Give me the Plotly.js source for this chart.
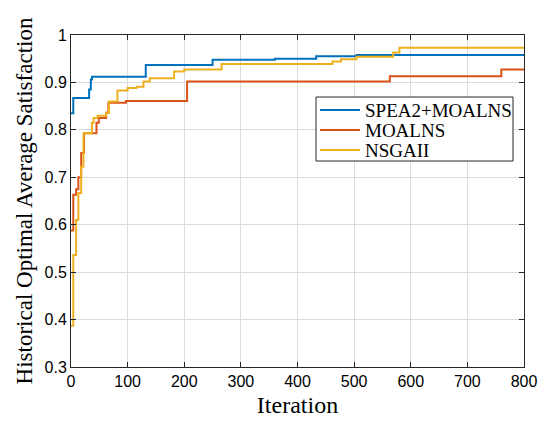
<!DOCTYPE html>
<html>
<head>
<meta charset="utf-8">
<script src="https://cdn.plot.ly/plotly-3.0.1.min.js"></script>
<style>html,body{margin:0;padding:0;background:#fff;}#chart{width:550px;height:430px;}</style>
</head>
<body>
<div id="chart"></div>
<script>
// SPEA2+MOALNS
const spea_x = [0, 4, 32, 35, 37, 132, 250, 360, 433, 504, 800];
const spea_y = [0.835, 0.867, 0.885, 0.906, 0.912, 0.937, 0.948, 0.950, 0.955, 0.958, 0.958];
// MOALNS
const moalns_x = [0, 4, 9, 13, 18, 23, 45, 49, 62, 66, 97, 205, 563, 760, 800];
const moalns_y = [0.588, 0.663, 0.675, 0.700, 0.751, 0.793, 0.815, 0.825, 0.836, 0.857, 0.861, 0.902, 0.913, 0.927, 0.927];
// NSGAII
const nsga_x = [0, 4, 9, 13, 18, 22, 37, 40, 47, 62, 67, 82, 100, 116, 128, 139, 182, 200, 266, 462, 477, 504, 569, 580, 800];
const nsga_y = [0.387, 0.536, 0.610, 0.667, 0.722, 0.793, 0.815, 0.825, 0.830, 0.836, 0.860, 0.883, 0.888, 0.891, 0.902, 0.909, 0.923, 0.927, 0.939, 0.944, 0.949, 0.954, 0.963, 0.973, 0.973];

const xticks = [0, 100, 200, 300, 400, 500, 600, 700, 800];
const yticks = [0.3, 0.4, 0.5, 0.6, 0.7, 0.8, 0.9, 1];
const ytickText = ['0.3', '0.4', '0.5', '0.6', '0.7', '0.8', '0.9', '1'];

const names = ['SPEA2+MOALNS', 'MOALNS', 'NSGAII'];
const colors = ['#0072BD', '#D95319', '#EDB120'];

const traces = [
  {x: spea_x, y: spea_y, name: names[0]},
  {x: moalns_x, y: moalns_y, name: names[1]},
  {x: nsga_x, y: nsga_y, name: names[2]}
].map((t, i) => Object.assign(t, {
  type: 'scatter', mode: 'lines', showlegend: false,
  line: {shape: 'hv', color: colors[i], width: 2}
}));

const serif = 'Liberation Serif, Times New Roman, serif';
const sans = 'Liberation Sans, Arial, Helvetica, sans-serif';

// legend drawn in paper coordinates (box, line samples, labels)
const W = 550 - 71 - 26, H = 430 - 35 - 63;
const px = v => (v - 71) / W;
const py = v => (430 - 63 - v) / H;
const legBox = {x0: 316, x1: 513, y0: 97, y1: 161};
const rowY = [110, 130, 150];
const shapes = [{
  type: 'rect', xref: 'paper', yref: 'paper',
  x0: px(legBox.x0), x1: px(legBox.x1), y0: py(legBox.y1), y1: py(legBox.y0),
  fillcolor: '#fff', line: {color: '#262626', width: 1}, layer: 'above'
}];
const annotations = [];
names.forEach((n, i) => {
  shapes.push({
    type: 'line', xref: 'paper', yref: 'paper',
    x0: px(320), x1: px(360), y0: py(rowY[i]), y1: py(rowY[i]),
    line: {color: colors[i], width: 2}, layer: 'above'
  });
  annotations.push({
    xref: 'paper', yref: 'paper', x: px(363), y: py(rowY[i]),
    xanchor: 'left', yanchor: 'middle', showarrow: false, text: n,
    font: {family: serif, size: 19, color: '#000'}
  });
});

const layout = {
  width: 550, height: 430,
  margin: {l: 71, r: 26, t: 35, b: 63},
  paper_bgcolor: '#fff', plot_bgcolor: '#fff',
  font: {family: sans, color: '#000', size: 16},
  showlegend: false,
  shapes: shapes,
  annotations: annotations,
  xaxis: {
    range: [0, 800], tickvals: xticks, ticktext: xticks.map(String),
    showgrid: true, gridcolor: '#dcdcdc', gridwidth: 1,
    showline: true, linecolor: '#262626', linewidth: 1, mirror: 'ticks',
    ticks: 'inside', ticklen: 5, tickcolor: '#262626',
    zeroline: false,
    tickfont: {family: sans, size: 16, color: '#000'},
    title: {text: 'Iteration', font: {family: serif, size: 24, color: '#000'}, standoff: 6}
  },
  yaxis: {
    range: [0.3, 1], tickvals: yticks, ticktext: ytickText,
    showgrid: true, gridcolor: '#dcdcdc', gridwidth: 1,
    showline: true, linecolor: '#262626', linewidth: 1, mirror: 'ticks',
    ticks: 'inside', ticklen: 5, tickcolor: '#262626',
    zeroline: false,
    tickfont: {family: sans, size: 16, color: '#000'},
    title: {text: 'Historical Optimal Average Satisfaction', font: {family: serif, size: 23, color: '#000'}, standoff: 5}
  }
};

Plotly.newPlot('chart', traces, layout, {displayModeBar: false, staticPlot: true});
</script>
</body>
</html>
